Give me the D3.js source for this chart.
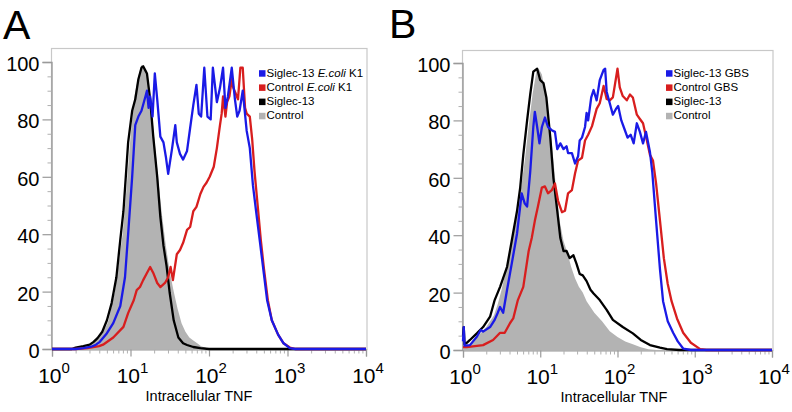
<!DOCTYPE html>
<html><head><meta charset="utf-8">
<script src="https://cdn.jsdelivr.net/npm/d3@7"></script>
<style>body{margin:0;background:#fff}svg{display:block;font-family:"Liberation Sans",Arial,Helvetica,sans-serif}</style>
</head><body><svg id="c" width="792" height="412"></svg>
<script>
// ---------- data ----------
const yTicks = [0, 20, 40, 60, 80, 100];
const yMinorTicks = [5,10,15,25,30,35,45,50,55,65,70,75,85,90,95];
const xTicks = [1, 10, 100, 1000, 10000];
const xTickBase = ["10", "10", "10", "10", "10"];
const xTickExp = ["0", "1", "2", "3", "4"];
const xMinorTicks = [2,3,4,5,6,7,8,9,20,30,40,50,60,70,80,90,200,300,400,500,600,700,800,900,2000,3000,4000,5000,6000,7000,8000,9000];
const xTitle = "Intracellular TNF";
const panelLabels = ["A", "B"];

const legendA = [
  [{t:"Siglec-13 "},{t:"E.coli",i:1},{t:" K1"}],
  [{t:"Control "},{t:"E.coli",i:1},{t:" K1"}],
  [{t:"Siglec-13"}],
  [{t:"Control"}]
];
const legendB = [
  [{t:"Siglec-13 GBS"}],
  [{t:"Control GBS"}],
  [{t:"Siglec-13"}],
  [{t:"Control"}]
];

// Panel A  [fluorescence, % of max]
const A_control = [[1,0],[2.0,0],[2.51,1],[3.16,2],[3.55,3],[3.98,4.5],[4.47,6],[5.01,8.5],[5.25,10],[5.75,15],[6.31,20],[7.08,30],[7.94,40],[8.91,56],[10,74],[11.2,88],[12.6,95],[13.8,99],[15.1,98],[16.6,95],[18.2,86],[20.0,74],[22.4,60],[25.1,47],[28.2,36],[31.6,27],[35.5,20],[39.8,14],[44.7,9],[50.1,6],[56.2,4],[63.1,3],[70.8,2],[79.4,1],[89.1,0.5],[100,0],[10000,0]];
const A_siglec = [[1,0],[1.78,0],[2.0,0.5],[2.51,1],[3.02,1.5],[3.39,2.5],[3.80,3.8],[4.37,6],[5.01,10],[5.75,16],[6.61,25],[7.41,38],[8.13,48],[8.71,60],[9.33,72],[10.5,83],[11.5,87],[12.6,94],[13.8,98],[14.5,98.5],[15.5,97],[16.2,96],[17.8,87],[19.5,74],[21.9,60],[24.0,46],[26.3,36],[28.8,29],[31.6,19.5],[35.5,10],[40.7,4],[46.8,2],[52.5,1.4],[63.1,0.7],[77.6,0.3],[100,0],[10000,0]];
const A_controlEcoli = [[1,0],[2.0,0],[2.82,0.3],[3.98,1],[4.47,1.5],[6.03,4],[8.13,7.7],[9.33,12.5],[11.0,17],[12.0,20.5],[13.2,21.6],[14.5,24],[16.2,26.5],[17.8,28.6],[19.5,26.5],[21.9,23],[24.0,21.6],[27.5,23],[30.2,25],[32.4,28.6],[34.7,24],[38.9,33],[42.7,34.5],[46.8,37],[52.5,41.5],[57.5,42.5],[63.1,48],[69.2,49.5],[77.6,54],[85.1,56.5],[93.3,58],[102,60],[115,63.5],[126,70],[138,78],[145,82],[151,88],[162,81],[170,86],[182,88],[195,94],[204,91],[219,89],[234,87],[251,98],[269,98],[288,84],[302,82],[331,81],[355,73],[380,62],[417,50],[457,38],[501,28],[562,17],[631,10],[759,5],[891,2],[1072,0.5],[1259,0],[10000,0]];
const A_siglecEcoli = [[1,0],[2.0,0],[2.51,0.3],[3.16,0.8],[3.63,1.5],[4.07,2.5],[5.01,5.5],[6.03,9],[7.41,15],[8.51,25],[9.33,40],[10.5,60],[11.5,78],[12.6,81],[13.8,83],[15.5,88],[16.2,90],[17.0,84],[17.8,88],[19.1,81],[20.4,96],[21.9,87],[24.0,74],[26.3,72],[28.2,67],[30.2,61],[33.9,70],[37.2,78],[38.9,72],[42.7,68],[46.8,66],[52.5,69],[57.5,77],[63.1,85],[69.2,92],[74.1,82],[79.4,81],[87.1,98],[95.5,81],[105,80],[112,98],[126,86],[138,91],[151,98],[162,84],[174,88],[195,98],[214,87],[229,81],[245,83],[269,90],[302,76],[331,70],[363,57],[398,48],[447,37],[501,26],[550,17],[631,10],[759,5],[891,2],[1072,0.3],[1259,0],[10000,0]];

// Panel B
const B_control = [[1,0.5],[1.12,1],[1.26,2.5],[1.58,5],[2.0,8],[2.51,12],[2.82,16],[3.16,21],[3.98,33],[5.01,47],[5.62,56],[6.31,66],[7.08,78],[7.94,89],[8.91,97],[9.55,98],[10.5,96],[11.5,90],[12.6,83],[14.1,72],[15.8,58],[17.8,45],[20.0,38],[22.4,34],[25.1,29],[28.2,25],[31.6,22],[35.5,20],[39.8,17],[50.1,13],[63.1,10],[79.4,6.5],[100,4.5],[126,3],[158,2],[200,1],[251,0.3],[316,0],[10000,0]];
const B_siglec = [[1,5],[1.023,8],[1.047,2],[1.12,2.5],[1.23,3.5],[1.51,5.8],[1.82,8],[2.24,11.6],[2.57,17.4],[3.02,22],[3.72,29],[4.27,38],[5.01,48.5],[5.50,56.6],[6.03,68],[6.76,80],[7.41,89],[8.13,97],[9.12,98],[10,94],[11.0,93],[12.0,88],[13.5,74],[14.8,60],[16.6,48.5],[18.2,39],[20.0,34.5],[21.9,34.5],[24.0,32],[26.9,33],[29.5,30],[32.4,26.5],[35.5,26],[39.8,24],[44.7,21],[49.0,19.7],[58.9,17.4],[72.4,14],[87.1,10.5],[117,8],[158,5.8],[200,3.5],[263,1.7],[355,0.8],[437,0.3],[631,0],[10000,0]];
const B_controlGBS = [[1,1],[1.12,1],[1.82,1.7],[2.45,3.5],[3.02,6],[3.47,6],[4.07,9.4],[4.47,11],[5.13,17.4],[6.03,22],[7.08,34.5],[7.76,39],[8.51,45],[9.33,50],[10.5,56.6],[11.5,57],[12.6,54.6],[14.1,55.7],[15.5,58],[17.0,52],[19.1,48],[20.9,48.5],[22.9,54.6],[25.7,55.7],[28.2,61.5],[30.9,66],[34.7,67],[38.0,73],[41.7,75],[46.8,78],[53.7,84],[58.9,86],[66.1,92],[72.4,87.5],[79.4,87],[87.1,88],[100,98],[107,91.5],[117,88.5],[132,87],[145,89],[158,88],[178,82],[195,80.5],[214,79],[240,73],[263,68],[288,66],[316,58],[355,45],[398,32],[447,23],[501,17],[589,11],[708,6],[891,2.5],[1175,0.3],[1413,0],[10000,0]];
const B_siglecGBS = [[1,3],[1.023,8],[1.047,1.5],[1.23,1.7],[1.51,4.6],[1.70,7],[1.82,6.4],[2.24,8],[2.57,10.5],[2.82,13],[3.02,15],[3.31,13],[3.72,21],[4.27,30],[5.01,40.6],[5.75,54.6],[6.31,51],[6.76,50],[7.41,62],[8.13,77.7],[8.51,83],[9.12,77.7],[9.77,72],[10.5,77.7],[11.5,81],[12.6,77.7],[14.1,76.6],[15.5,76],[16.6,70],[18.2,72],[20.0,70],[21.9,71],[22.9,68.6],[25.7,68.6],[28.2,65],[30.9,67.5],[32.4,73],[34.7,74],[38.0,77.7],[39.8,82.6],[41.7,80],[45.7,88],[49.0,90.6],[53.7,87],[58.9,94],[66.1,97.6],[69.2,98],[72.4,90],[79.4,86],[87.1,82],[95.5,84],[102,85],[112,80],[123,77],[135,74],[148,75],[162,72],[178,79],[195,76],[214,72],[234,76],[263,69],[282,62],[316,45],[355,28],[389,17],[447,10],[525,6],[603,3],[708,0.5],[891,0],[10000,0]];

const colors = {blue:"#1a1ae6", red:"#d81e1e", black:"#000000", gray:"#b3b3b3"};
const legendColors = [colors.blue, colors.red, colors.black, colors.gray];

// ---------- drawing ----------
const svg = d3.select("#c");

function panel(cfg) {
  const x = d3.scaleLog().domain([1, 10000]).range([cfg.x0, cfg.x1]);
  const y = d3.scaleLinear().domain([0, 100]).range([cfg.y0, cfg.y1]);
  const g = svg.append("g");

  // frame
  g.append("rect").attr("x", cfg.x0 - 0.5).attr("y", cfg.top + 0.5)
    .attr("width", cfg.x1 - cfg.x0 + 1.5).attr("height", cfg.y0 - cfg.top)
    .attr("fill", "none").attr("stroke", "#c8c8c8").attr("stroke-width", 1.2);

  // y axis
  const ya = g.append("g").attr("transform", `translate(${cfg.x0 - 0.5},0)`)
    .call(d3.axisLeft(y).tickValues(yTicks).tickSize(9).tickPadding(3).tickFormat(d3.format("d")));
  ya.select(".domain").attr("stroke", "#9a9a9a").attr("stroke-width", 1.4);
  ya.selectAll(".tick line").attr("stroke", "#9a9a9a").attr("stroke-width", 1.2);
  ya.selectAll(".tick text").attr("font-size", 20).attr("fill", "#000").attr("dy", "0.42em")
    .attr("font-family", '"Liberation Sans",Arial,sans-serif');
  const ym = g.append("g").attr("transform", `translate(${cfg.x0 - 0.5},0)`)
    .call(d3.axisLeft(y).tickValues(yMinorTicks).tickSize(4).tickFormat(""));
  ym.select(".domain").remove();
  ym.selectAll(".tick line").attr("stroke", "#b0b0b0");

  // x axis
  const xa = g.append("g").attr("transform", `translate(0,${cfg.y0 + 0.5})`)
    .call(d3.axisBottom(x).tickValues(xTicks).tickSize(7).tickFormat(""));
  xa.select(".domain").attr("stroke", "#9a9a9a").attr("stroke-width", 1.2);
  xa.selectAll(".tick line").attr("stroke", "#9a9a9a").attr("stroke-width", 1.2);
  const xm = g.append("g").attr("transform", `translate(0,${cfg.y0 + 0.5})`)
    .call(d3.axisBottom(x).tickValues(xMinorTicks).tickSize(4).tickFormat(""));
  xm.select(".domain").remove();
  xm.selectAll(".tick line").attr("stroke", "#b0b0b0");

  xTicks.forEach((v, i) => {
    const t = g.append("text").attr("x", x(v) + 2).attr("y", cfg.y0 + 34)
      .attr("text-anchor", "middle").attr("font-size", 21).attr("fill", "#000");
    t.append("tspan").text(xTickBase[i]);
    t.append("tspan").attr("font-size", 15).attr("dy", -10).text(xTickExp[i]);
  });

  g.append("text").attr("x", cfg.titleX).attr("y", cfg.y0 + 52)
    .attr("text-anchor", "middle").attr("font-size", 14.5).attr("fill", "#000").text(xTitle);

  // series
  const area = d3.area().x(d => x(d[0])).y0(y(0)).y1(d => y(d[1]));
  const line = d3.line().x(d => x(d[0])).y(d => y(d[1]));
  g.append("path").datum(cfg.control).attr("d", area).attr("fill", colors.gray);
  [[cfg.siglec, colors.black], [cfg.ctrlInf, colors.red], [cfg.sigInf, colors.blue]].forEach(([data, c]) => {
    g.append("path").datum(data).attr("d", line).attr("fill", "none")
      .attr("stroke", c).attr("stroke-width", 2.3).attr("stroke-linejoin", "round");
  });

  // legend
  cfg.legend.forEach((segs, i) => {
    const by = cfg.legY + i * 14.2;
    g.append("rect").attr("x", cfg.legX).attr("y", by - 6.5).attr("width", 6.5).attr("height", 6.5)
      .attr("fill", legendColors[i]);
    const t = g.append("text").attr("x", cfg.legX + 7.5).attr("y", by).attr("font-size", 11.5).attr("fill", "#000");
    segs.forEach(s => t.append("tspan").attr("font-style", s.i ? "italic" : null).text(s.t));
  });

  svg.append("text").attr("x", cfg.labX).attr("y", cfg.labY).attr("font-size", 41)
    .attr("fill", "#000").text(cfg.label);
}

panel({x0:52, x1:366, y0:349, y1:62, top:48, titleX:199, legX:259, legY:76.7, labX:3, labY:39,
  label:panelLabels[0], legend:legendA,
  control:A_control, siglec:A_siglec, ctrlInf:A_controlEcoli, sigInf:A_siglecEcoli});
panel({x0:463, x1:772, y0:350, y1:63, top:50, titleX:614, legX:666, legY:76.7, labX:389, labY:38,
  label:panelLabels[1], legend:legendB,
  control:B_control, siglec:B_siglec, ctrlInf:B_controlGBS, sigInf:B_siglecGBS});
</script></body></html>
